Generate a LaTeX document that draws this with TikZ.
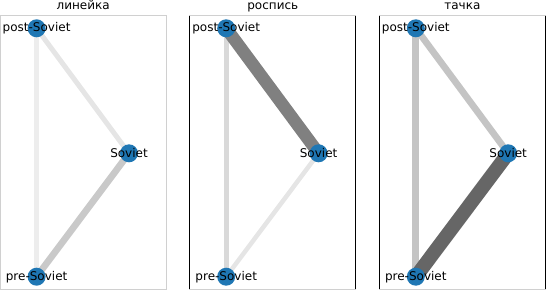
\documentclass[tikz,border=0pt]{standalone}
\usepackage{fontspec}
\setmainfont{DejaVu Sans}
\usepackage{xcolor}
\usepackage{tikz}
\usetikzlibrary{backgrounds}
\definecolor{vblue}{HTML}{1F77B4}
\definecolor{vspine}{HTML}{D0D0D0}

\begin{document}
\begin{tikzpicture}[
  x=1pt,y=-1pt,
  font=\fontsize{12}{14}\selectfont,
  v/.style={circle,fill=vblue,minimum size=18pt,inner sep=0pt},
  lbl/.style={label={[inner sep=0pt]center:#1}},
  ttl/.style={anchor=base,inner sep=0pt},
  box/.style={draw=vspine,line width=1pt},
  side/.style={draw=black,line width=1pt},
  e/.style={line width=#1}
]
\useasboundingbox (0,0) rectangle (546,290);

% panel 1
\begin{scope}
\draw[box] (0.5,15.5) rectangle (166.3,289);
\node[ttl] (titleA) at (83.2,9.5) {линейка};
\node[v,lbl=post-Soviet] (postA) at (36.6,28.3) {};
\node[v,lbl=Soviet] (sovA) at (129,153.3) {};
\node[v,lbl=pre-Soviet] (preA) at (36.6,276.7) {};
\begin{scope}[on background layer]
\draw[e=4.5,black!7] (postA.center) -- (preA.center);
\draw[e=5,black!10] (postA.center) -- (sovA.center);
\draw[e=6.7,black!21] (sovA.center) -- (preA.center);
\end{scope}
\end{scope}

% panel 2
\begin{scope}[xshift=189.6pt]
\draw[box] (0,15.5) rectangle (166.3,289);
\draw[side] (0,15.5) -- (0,289);
\draw[side] (166.3,15.5) -- (166.3,289);
\node[ttl] (titleB) at (83.2,9.5) {роспись};
\node[v,lbl=post-Soviet] (postB) at (36.6,28.3) {};
\node[v,lbl=Soviet] (sovB) at (129,153.3) {};
\node[v,lbl=pre-Soviet] (preB) at (36.6,276.7) {};
\begin{scope}[on background layer]
\draw[e=5.3,black!15] (postB.center) -- (preB.center);
\draw[e=12.5,black!50] (postB.center) -- (sovB.center);
\draw[e=4.5,black!10] (sovB.center) -- (preB.center);
\end{scope}
\end{scope}

% panel 3
\begin{scope}[xshift=379.2pt]
\draw[box] (0,15.5) rectangle (166.3,289);
\draw[side] (0,15.5) -- (0,289);
\draw[side] (166.3,15.5) -- (166.3,289);
\node[ttl] (titleC) at (83.2,9.5) {тачка};
\node[v,lbl=post-Soviet] (postC) at (36.6,28.3) {};
\node[v,lbl=Soviet] (sovC) at (129,153.3) {};
\node[v,lbl=pre-Soviet] (preC) at (36.6,276.7) {};
\begin{scope}[on background layer]
\draw[e=6.7,black!23] (postC.center) -- (preC.center);
\draw[e=6.7,black!23] (postC.center) -- (sovC.center);
\draw[e=14,black!60] (sovC.center) -- (preC.center);
\end{scope}
\end{scope}
\end{tikzpicture}
\end{document}
